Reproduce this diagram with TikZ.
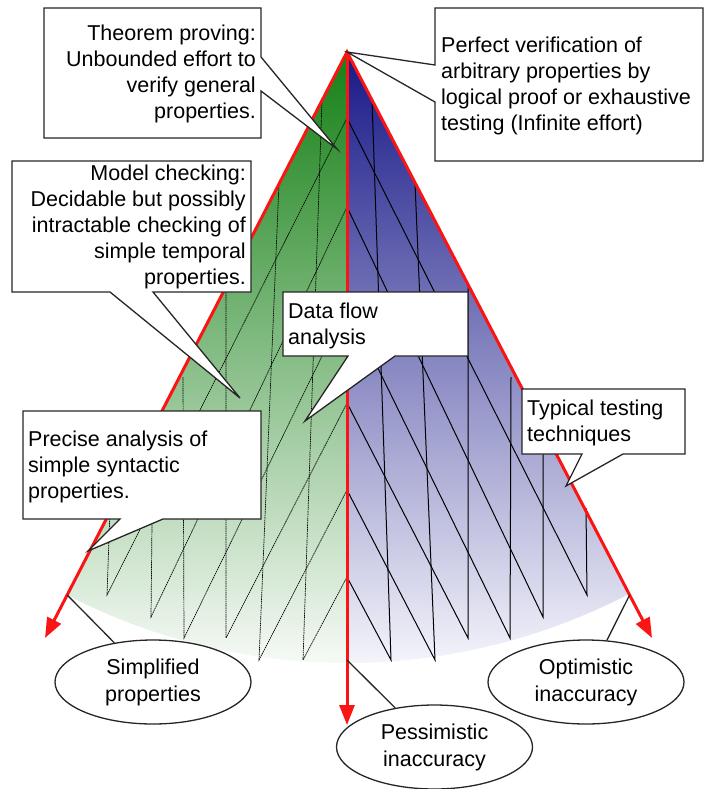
\documentclass[tikz,border=0pt]{standalone}
\usepackage{fontspec}
\setmainfont{Liberation Sans}
\usetikzlibrary{arrows.meta,shapes.geometric}
\definecolor{gTop}{RGB}{22,128,22}
\definecolor{gMid}{RGB}{112,186,112}
\definecolor{gBot}{RGB}{246,250,246}
\definecolor{bTop}{RGB}{24,24,136}
\definecolor{bMid}{RGB}{112,112,186}
\definecolor{bBot}{RGB}{244,244,251}
\definecolor{redline}{RGB}{250,20,20}
\begin{document}
\begin{tikzpicture}[x=1pt,y=-1pt,
  callout/.style={draw=black!85, line width=1.3pt, fill=white, line join=miter},
  txt/.style={inner sep=0pt, font=\fontsize{21.5}{26}\selectfont},
  oval/.style={ellipse, draw=black!85, line width=1.3pt, fill=white,
    minimum width=196pt, minimum height=84pt, inner sep=0pt, align=center,
    font=\fontsize{21.5}{27}\selectfont},
  conn/.style={draw=black!85, line width=1.3pt},
  redarrow/.style={draw=redline, line width=3pt, line join=miter},
  tip/.style={-{Triangle[length=20pt,width=15pt]}},
  bluehatch/.style={draw=black, line width=1pt},
  greenhatch/.style={draw=black, line width=0.7pt, dash pattern=on 1.5pt off 0.7pt}]

\useasboundingbox (0,0) rectangle (708,789);

\coordinate (apex) at (347,52);
\coordinate (lt) at (45,638);
\coordinate (rt) at (652,638);
\coordinate (ct) at (347,725);
\coordinate (cL) at (67.2,595);
\coordinate (cR) at (629.6,595);
\coordinate (cC) at (347,660);

% filled sectors
\shade[top color=gTop, middle color=gMid, bottom color=gBot]
  (apex) -- ++(117.3:611) arc[start angle=117.3, end angle=90, radius=611] -- cycle;
\shade[top color=bTop, middle color=bMid, bottom color=bBot]
  (apex) -- ++(62.6:611) arc[start angle=62.6, end angle=90, radius=611] -- cycle;

% blue hatching (solid)
\foreach \tx/\ty/\bx/\by/\cy in {372/100/391/660/577, 415/183/435/660/490, 468/284/468/638/403,
    511/377/510/638/305, 543/428/543/617/207, 586/508/587/595/118}{
  \draw[bluehatch] (\tx,\ty) -- (\bx,\by) -- (347,\cy);
}
% green hatching (dashed)
\foreach \tx/\ty/\bx/\by/\cy in {322/100/303/660/577, 279/183/259/660/490, 226/284/226/638/403,
    183/377/184/638/305, 153/430/151/617/207, 110/510/107/595/118}{
  \draw[greenhatch] (\tx,\ty) -- (\bx,\by) -- (347,\cy);
}

% red axes
\draw[redarrow, {Triangle[length=20pt,width=15pt]}-{Triangle[length=20pt,width=15pt]}] (lt) -- (apex) -- (rt);
\draw[redarrow, tip] (apex) -- (ct);

% callouts
\draw[callout] (44,8) -- (261,8) -- (261,57) -- (337,149) -- (261,91) -- (261,138) -- (44,138) -- cycle;
\draw[callout] (435,8) -- (703,8) -- (703,161) -- (435,161) -- (435,102) -- (347,52) -- (435,65) -- cycle;
\draw[callout] (12,161) -- (251,161) -- (251,292) -- (153,292) -- (240,398) -- (110,292) -- (12,292) -- cycle;
\draw[callout] (283,292) -- (468,292) -- (468,356) -- (395,356) -- (305,421) -- (348,356) -- (283,356) -- cycle;
\draw[callout] (23,411) -- (261,411) -- (261,519) -- (163,519) -- (88,551) -- (120,519) -- (23,519) -- cycle;
\draw[callout] (522,389) -- (685,389) -- (685,454) -- (623,454) -- (566,486) -- (582,454) -- (522,454) -- cycle;

% callout texts
\node[txt, anchor=north east, align=right] (tp) at (256,25)
  {Theorem proving:\\Unbounded effort to\\verify general\\properties.};
\node[txt, anchor=north west, align=left] (pv) at (441,37)
  {Perfect verification of\\arbitrary properties by\\logical proof or exhaustive\\testing (Infinite effort)};
\node[txt, anchor=north east, align=right] (mc) at (246,165)
  {Model checking:\\Decidable but possibly\\intractable checking of\\simple temporal\\properties.};
\node[txt, anchor=north west, align=left] (df) at (288,303)
  {Data flow\\analysis};
\node[txt, anchor=north west, align=left] (pa) at (28,431)
  {Precise analysis of\\simple syntactic\\properties.};
\node[txt, anchor=north west, align=left] (tt) at (527,400)
  {Typical testing\\techniques};

% ellipses
\node[oval] (simp) at (153,682) {Simplified\\properties};
\node[oval] (pess) at (434.5,747) {Pessimistic\\inaccuracy};
\node[oval] (opt) at (586,682) {Optimistic\\inaccuracy};

\draw[conn] (cL) -- (simp);
\draw[conn] (cC) -- (pess);
\draw[conn] (cR) -- (opt);
\end{tikzpicture}
\end{document}
